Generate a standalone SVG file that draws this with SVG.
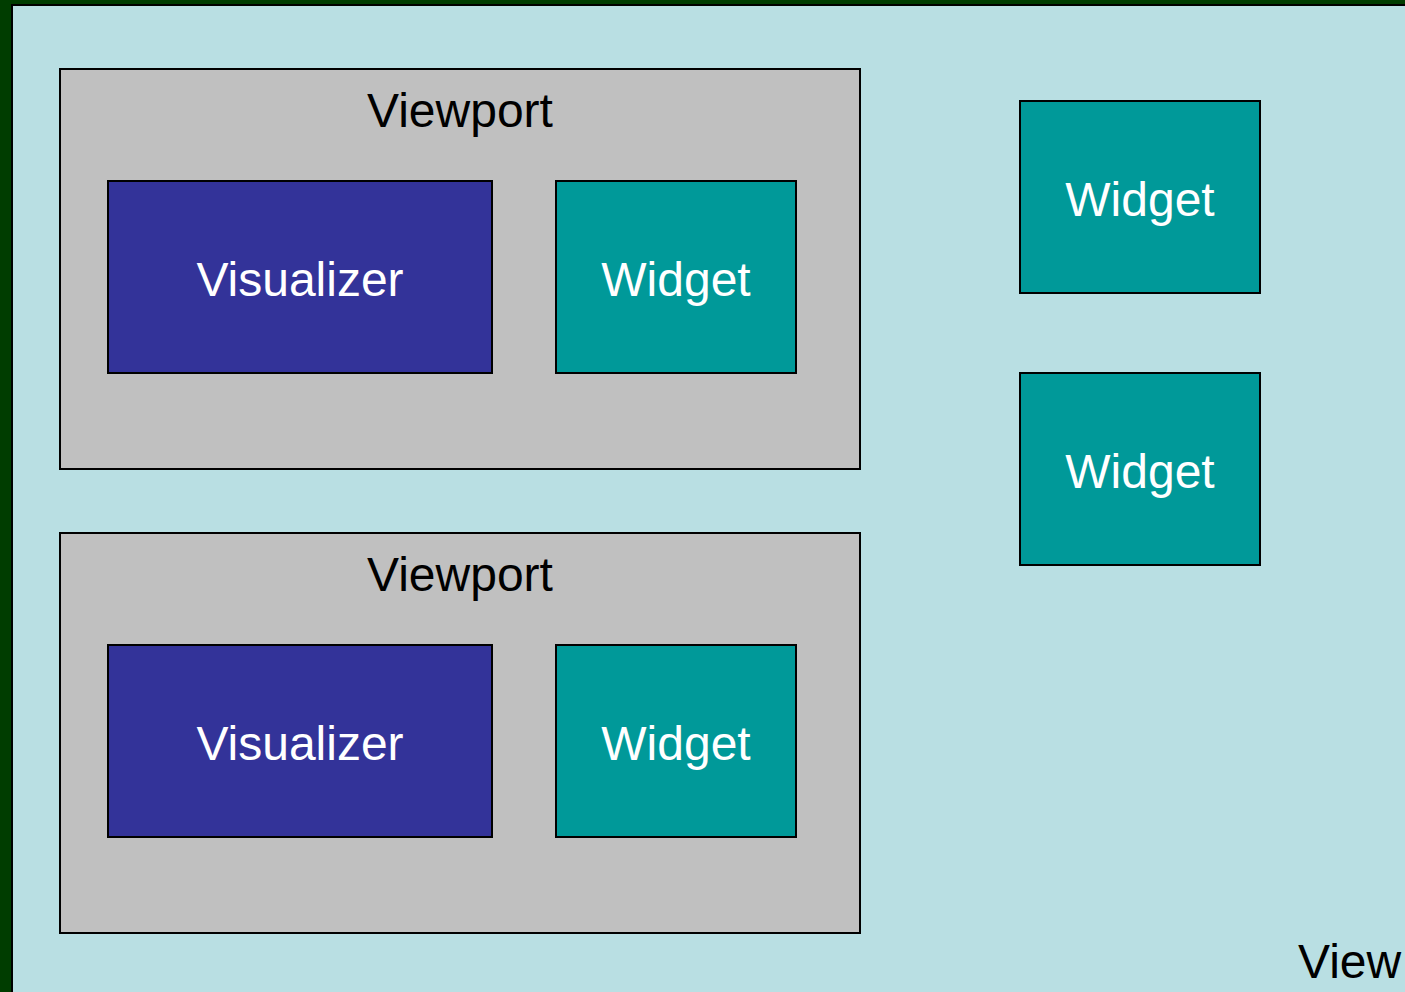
<svg xmlns="http://www.w3.org/2000/svg" width="1405" height="992" viewBox="0 0 1405 992">
<style>
text{font-family:"Liberation Sans",Arial,sans-serif;font-size:48px}
.vp{fill:#c0c0c0;stroke:#000;stroke-width:2}
.vis{fill:#333399;stroke:#000;stroke-width:2}
.wid{fill:#009999;stroke:#000;stroke-width:2}
.dark{fill:#000;text-anchor:middle}
.light{fill:#fff;text-anchor:middle}
</style>
<rect x="0" y="0" width="1405" height="992" fill="#003d00"/>
<g id="view">
<rect x="12" y="5" width="1410" height="1000" fill="#b9dfe3" stroke="#000" stroke-width="2"/>
<text x="1298" y="978" fill="#000">View</text>
</g>
<g id="viewport1">
<rect class="vp" x="60" y="69" width="800" height="400"/>
<text class="dark" x="460" y="127">Viewport</text>
</g>
<g id="visualizer1">
<rect class="vis" x="108" y="181" width="384" height="192"/>
<text class="light" x="300" y="296">Visualizer</text>
</g>
<g id="widget1">
<rect class="wid" x="556" y="181" width="240" height="192"/>
<text class="light" x="676" y="296">Widget</text>
</g>
<g id="viewport2">
<rect class="vp" x="60" y="533" width="800" height="400"/>
<text class="dark" x="460" y="591">Viewport</text>
</g>
<g id="visualizer2">
<rect class="vis" x="108" y="645" width="384" height="192"/>
<text class="light" x="300" y="760">Visualizer</text>
</g>
<g id="widget2">
<rect class="wid" x="556" y="645" width="240" height="192"/>
<text class="light" x="676" y="760">Widget</text>
</g>
<g id="widget3">
<rect class="wid" x="1020" y="101" width="240" height="192"/>
<text class="light" x="1140" y="216">Widget</text>
</g>
<g id="widget4">
<rect class="wid" x="1020" y="373" width="240" height="192"/>
<text class="light" x="1140" y="488">Widget</text>
</g>
<g id="connectors"></g>
</svg>
